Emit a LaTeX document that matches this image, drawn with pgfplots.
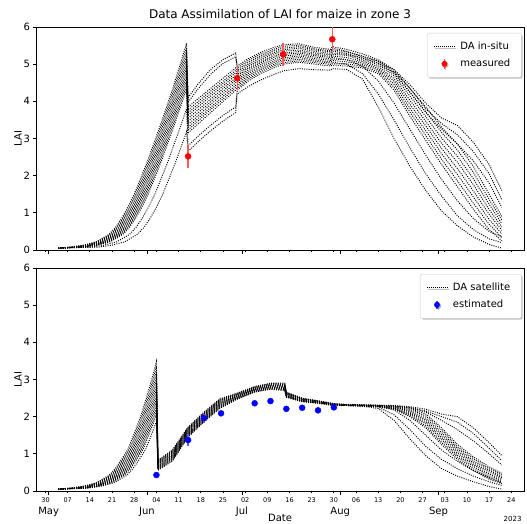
\documentclass[border=0pt]{standalone}
\usepackage{fontspec}
\setmainfont{DejaVu Sans}
\usepackage{pgfplots}
\pgfplotsset{compat=1.18}
\usepackage{pgfplotstable}
\usetikzlibrary{shadows}

% ensemble members after the first update (day of year, one column per member)
\pgfplotstableread{
day   i0   i1   i2   i3   i4   i5   i6   i7   i8   i9   i10  i11  i12  i13
165   4.10 3.85 3.98 3.77 3.69 3.62 3.54 3.46 3.38 3.30 3.23 3.15 2.80 2.65
168   4.45 4.06 4.32 3.98 3.91 3.84 3.76 3.68 3.60 3.53 3.46 3.38 3.05 2.90
172   4.85 4.34 4.72 4.27 4.20 4.13 4.05 3.98 3.91 3.83 3.77 3.69 3.35 3.20
176   5.12 4.62 5.02 4.54 4.48 4.41 4.34 4.27 4.20 4.13 4.06 3.99 3.62 3.47
180   5.30 4.90 5.20 4.83 4.77 4.70 4.63 4.57 4.50 4.43 4.37 4.30 3.85 3.70
180.5 4.95 4.84 4.90 4.79 4.73 4.68 4.63 4.57 4.52 4.46 4.41 4.35 4.30 4.20
184   5.15 5.05 5.10 5.00 4.95 4.90 4.85 4.80 4.75 4.70 4.65 4.60 4.55 4.40
188   5.32 5.22 5.27 5.18 5.13 5.08 5.04 4.99 4.94 4.89 4.85 4.80 4.75 4.58
192   5.45 5.36 5.40 5.31 5.27 5.22 5.18 5.13 5.08 5.04 4.99 4.95 4.90 4.72
195   5.52 5.43 5.48 5.39 5.35 5.30 5.26 5.22 5.17 5.13 5.09 5.04 5.00 4.82
200   5.55 5.47 5.51 5.43 5.38 5.34 5.30 5.26 5.22 5.18 5.13 5.09 5.05 4.88
205   5.45 5.38 5.41 5.34 5.30 5.26 5.23 5.19 5.15 5.11 5.08 5.04 5.00 4.85
210   5.40 5.33 5.36 5.29 5.25 5.21 5.18 5.14 5.10 5.06 5.03 4.99 4.95 4.84
210.5 5.47 5.39 5.43 5.35 5.30 5.26 5.22 5.18 5.14 5.10 5.05 5.01 4.97 4.88
215   5.40 5.33 5.35 5.29 5.26 5.24 5.18 5.12 5.12 5.06 5.00 5.01 4.95 4.86
220   5.28 5.22 5.20 5.16 5.16 5.11 5.07 4.95 5.03 4.99 4.75 4.94 4.90 4.60
225   5.12 5.08 5.08 5.03 5.03 4.99 4.94 4.55 4.89 4.85 4.20 4.80 4.75 3.85
230   4.85 4.80 4.85 4.77 4.75 4.69 4.61 3.95 4.54 4.46 3.50 4.38 4.30 3.00
235   4.45 4.35 4.35 4.24 4.25 4.14 4.03 3.25 3.92 3.81 2.75 3.71 3.60 2.25
240   3.95 3.80 3.85 3.72 3.70 3.59 3.46 2.55 3.34 3.21 2.05 3.08 2.95 1.60
245   3.55 3.40 3.30 3.16 3.25 3.01 2.87 1.90 2.73 2.59 1.45 2.44 2.30 1.05
250   3.35 3.10 2.85 2.69 2.85 2.52 2.36 1.32 2.19 2.03 0.92 1.86 1.70 0.65
255   2.90 2.65 2.25 2.09 2.40 1.92 1.76 0.85 1.59 1.43 0.55 1.26 1.10 0.35
260   2.30 2.05 1.50 1.36 1.80 1.23 1.09 0.50 0.96 0.82 0.30 0.69 0.55 0.15
264   1.60 1.35 0.90 0.81 1.15 0.71 0.62 0.35 0.53 0.44 0.20 0.34 0.25 0.05
}\insitutab

\pgfplotstableread{
day   i0   i1   i2   i3   i4   i5   i6   i7   i8   i9   i10  i11  i12  i13
155.5 0.83 0.81 0.79 0.77 0.75 0.73 0.71 0.68 0.66 0.64 0.62 0.60 0.58 0.56
160   1.10 1.08 1.05 1.03 1.01 0.98 0.96 0.94 0.92 0.89 0.87 0.85 0.82 0.80
165   1.72 1.70 1.68 1.66 1.64 1.62 1.60 1.57 1.55 1.53 1.51 1.49 1.47 1.45
170   2.12 2.10 2.08 2.06 2.04 2.02 2.00 1.98 1.96 1.94 1.92 1.90 1.88 1.86
175   2.48 2.46 2.44 2.42 2.40 2.38 2.36 2.34 2.32 2.30 2.28 2.26 2.24 2.22
180   2.62 2.61 2.59 2.58 2.57 2.55 2.54 2.53 2.52 2.50 2.49 2.48 2.46 2.45
186   2.81 2.80 2.79 2.78 2.76 2.75 2.74 2.73 2.72 2.71 2.69 2.68 2.67 2.66
191   2.90 2.89 2.88 2.86 2.85 2.84 2.83 2.81 2.80 2.79 2.78 2.76 2.75 2.74
195.5 2.90 2.88 2.87 2.85 2.84 2.82 2.81 2.79 2.78 2.76 2.75 2.73 2.72 2.70
196   2.66 2.65 2.64 2.63 2.62 2.61 2.60 2.58 2.57 2.56 2.55 2.54 2.53 2.52
201   2.50 2.49 2.48 2.48 2.47 2.46 2.45 2.45 2.44 2.43 2.42 2.42 2.41 2.40
206   2.43 2.42 2.42 2.41 2.41 2.40 2.40 2.39 2.39 2.38 2.38 2.37 2.37 2.36
211   2.35 2.35 2.34 2.34 2.33 2.33 2.33 2.32 2.32 2.32 2.31 2.31 2.30 2.30
215   2.33 2.32 2.32 2.32 2.32 2.31 2.31 2.31 2.31 2.31 2.30 2.30 2.30 2.30
220   2.32 2.31 2.31 2.31 2.31 2.30 2.30 2.30 2.30 2.30 2.29 2.29 2.29 2.28
225   2.31 2.30 2.30 2.30 2.30 2.29 2.29 2.28 2.28 2.28 2.26 2.27 2.27 2.22
230   2.30 2.28 2.29 2.27 2.28 2.26 2.25 2.18 2.23 2.22 2.05 2.21 2.20 1.90
235   2.27 2.22 2.25 2.19 2.24 2.16 2.13 1.90 2.09 2.06 1.65 2.03 2.00 1.40
240   2.20 2.07 2.15 2.02 2.12 1.96 1.91 1.50 1.86 1.81 1.20 1.75 1.70 0.95
245   2.07 1.70 2.00 1.64 1.90 1.57 1.51 1.10 1.44 1.38 0.85 1.31 1.25 0.60
250   2.00 1.25 1.85 1.19 1.65 1.14 1.08 0.80 1.02 0.96 0.60 0.91 0.85 0.40
255   1.70 0.92 1.55 0.87 1.35 0.81 0.76 0.55 0.71 0.66 0.40 0.60 0.55 0.25
260   1.30 0.65 1.15 0.60 1.00 0.56 0.51 0.35 0.46 0.41 0.25 0.37 0.32 0.12
264   0.95 0.48 0.82 0.44 0.70 0.40 0.36 0.22 0.32 0.28 0.15 0.24 0.20 0.05
}\sattab

\pgfplotsset{
  lai/.style={
    scale only axis, width=488pt, height=223pt,
    xmin=117, xmax=271, ymin=0, ymax=6,
    ytick={0,1,2,3,4,5,6},
    tick pos=left, tick align=outside,
    xtick={120,127,...,267},
    major tick length=2.5pt,
    axis line style={line width=0.8pt},
    every tick/.style={black, line width=0.8pt},
    extra x ticks={121,152,182,213,244},
    extra x tick style={major tick length=4pt,
      xticklabel style={font=\fontsize{10}{10}\selectfont, yshift=-7.5pt}},
    /pgf/number format/assume math mode=true,
    yticklabel style={font=\fontsize{10}{12}\selectfont},
    xticklabel style={font=\fontsize{6.5}{7}\selectfont, yshift=-1pt},
    ylabel={LAI}, ylabel shift=-5pt,
    ylabel style={font=\fontsize{10}{12}\selectfont},
    legend cell align=left,
    legend style={at={(1,1)}, anchor=north east, xshift=-2.5pt, yshift=-6pt,
      font=\fontsize{10}{12}\selectfont, draw=black!20, rounded corners=2pt,
      fill=white, inner xsep=6pt, inner ysep=7pt, row sep=4pt,
      nodes={inner xsep=5pt},
      drop shadow={shadow xshift=1.2pt, shadow yshift=-1.2pt, fill=black, opacity=0.25}},
  },
  ens/.style={black, line width=0.95pt, dash pattern=on 0.95pt off 1.3pt, forget plot},
  dotleg/.style={legend image code/.code={\draw[black, line width=0.8pt, dash pattern=on 0.8pt off 1.2pt] (0pt,0pt) -- (21pt,0pt);}},
  redleg/.style={legend image code/.code={\draw[red!65, line width=1.4pt] (10.5pt,-5pt) -- (10.5pt,5pt); \fill[red] (10.5pt,0pt) circle (2.7pt);}},
  blueleg/.style={legend image code/.code={\draw[blue!65, line width=1.4pt] (10.5pt,-4pt) -- (10.5pt,4pt); \fill[blue] (10.5pt,0pt) circle (2.7pt);}},
}

\begin{document}
\begin{tikzpicture}
\path[use as bounding box] (0,0) rectangle (527pt,524pt);

% ---------- top: in-situ ----------
\begin{axis}[lai, at={(36pt,274pt)}, anchor=south west,
    xticklabels={}, extra x tick labels={}]
  \addplot[ens] coordinates {(124,0.05)(128,0.08)(132,0.13)(136,0.22)(140,0.42)(142,0.60)(144,0.85)(146,1.15)(148,1.50)(152,2.35)(156,3.30)(160,4.30)(162,4.85)(164.5,5.56)(165,4.10)};
  \addplot[ens] coordinates {(124,0.05)(128.4,0.08)(132.4,0.13)(136.4,0.22)(140.4,0.42)(142.4,0.60)(144.4,0.85)(146.4,1.15)(148.4,1.50)(152.4,2.35)(156.4,3.30)(160.4,4.30)(162.4,4.85)(164.5,5.45)(165,3.85)};
  \addplot[ens] coordinates {(124,0.05)(128.8,0.08)(132.8,0.13)(136.8,0.22)(140.8,0.42)(142.8,0.60)(144.8,0.85)(146.8,1.15)(148.8,1.50)(152.8,2.35)(156.8,3.30)(160.8,4.30)(162.8,4.85)(164.5,5.33)(165,3.98)};
  \addplot[ens] coordinates {(124,0.05)(129.2,0.08)(133.2,0.13)(137.2,0.22)(141.2,0.42)(143.2,0.60)(145.2,0.85)(147.2,1.15)(149.2,1.50)(153.2,2.35)(157.2,3.30)(161.2,4.30)(163.2,4.85)(164.5,5.22)(165,3.77)};
  \addplot[ens] coordinates {(124,0.05)(129.6,0.08)(133.6,0.13)(137.6,0.22)(141.6,0.42)(143.6,0.60)(145.6,0.85)(147.6,1.15)(149.6,1.50)(153.6,2.35)(157.6,3.30)(161.6,4.30)(163.6,4.85)(164.5,5.11)(165,3.69)};
  \addplot[ens] coordinates {(124,0.05)(130,0.08)(134,0.13)(138,0.22)(142,0.42)(144,0.60)(146,0.85)(148,1.15)(150,1.50)(154,2.35)(158,3.30)(162,4.30)(164,4.85)(164.5,4.99)(165,3.62)};
  \addplot[ens] coordinates {(124,0.05)(130.4,0.08)(134.4,0.13)(138.4,0.22)(142.4,0.42)(144.4,0.60)(146.4,0.85)(148.4,1.15)(150.4,1.50)(154.4,2.35)(158.4,3.30)(162.4,4.30)(164.4,4.85)(164.5,4.88)(165,3.54)};
  \addplot[ens] coordinates {(124,0.05)(130.8,0.08)(134.8,0.13)(138.8,0.22)(142.8,0.42)(144.8,0.60)(146.8,0.85)(148.8,1.15)(150.8,1.50)(154.8,2.35)(158.8,3.30)(162.8,4.30)(164.5,4.77)(165,3.46)};
  \addplot[ens] coordinates {(124,0.05)(131.2,0.08)(135.2,0.13)(139.2,0.22)(143.2,0.42)(145.2,0.60)(147.2,0.85)(149.2,1.15)(151.2,1.50)(155.2,2.35)(159.2,3.30)(163.2,4.30)(164.5,4.66)(165,3.38)};
  \addplot[ens] coordinates {(124,0.05)(131.6,0.08)(135.6,0.13)(139.6,0.22)(143.6,0.42)(145.6,0.60)(147.6,0.85)(149.6,1.15)(151.6,1.50)(155.6,2.35)(159.6,3.30)(163.6,4.30)(164.5,4.55)(165,3.30)};
  \addplot[ens] coordinates {(124,0.05)(132,0.08)(136,0.13)(140,0.22)(144,0.42)(146,0.60)(148,0.85)(150,1.15)(152,1.50)(156,2.35)(160,3.30)(164,4.30)(164.5,4.44)(165,3.23)};
  \addplot[ens] coordinates {(124,0.05)(132.4,0.08)(136.4,0.13)(140.4,0.22)(144.4,0.42)(146.4,0.60)(148.4,0.85)(150.4,1.15)(152.4,1.50)(156.4,2.35)(160.4,3.30)(164.4,4.30)(164.5,4.33)(165,3.15)};
  \addplot[ens] coordinates {(124,0.05)(134.5,0.08)(138.5,0.13)(142.5,0.22)(146.5,0.42)(148.5,0.60)(150.5,0.85)(152.5,1.15)(154.5,1.50)(158.5,2.35)(162.5,3.30)(164.5,3.80)(165,2.80)};
  \addplot[ens] coordinates {(124,0.05)(137,0.08)(141,0.13)(145,0.22)(149,0.42)(151,0.60)(153,0.85)(155,1.15)(157,1.50)(161,2.35)(164.5,3.18)(165,2.65)};
  \pgfplotsinvokeforeach{0,...,13}{
    \addplot[ens] table[x=day, y=i#1] {\insitutab};
  }
  \addlegendimage{dotleg}
  \addlegendentry{DA in-situ}
  \addplot[redleg, only marks, mark=*, mark size=3pt, color=red,
    error bars/.cd, y dir=both, y explicit, error mark=none,
    error bar style={line width=1.4pt, red!65}]
    coordinates {(165,2.52) +- (0,0.31) (180.5,4.62) +- (0,0.32) (195,5.26) +- (0,0.31) (210.5,5.67) +- (0,0.32)};
  \addlegendentry{measured}
\end{axis}

% ---------- bottom: satellite ----------
\begin{axis}[lai, at={(36pt,33pt)}, anchor=south west,
    xticklabels={30,07,14,21,28,04,11,18,25,02,09,16,23,30,06,13,20,27,03,10,17,24},
    extra x tick labels={May,Jun,Jul,Aug,Sep}]
  \addplot[ens] coordinates {(124,0.05)(128,0.08)(132,0.13)(136,0.22)(140,0.42)(142,0.60)(144,0.85)(146,1.12)(148,1.55)(150,2.00)(152,2.55)(154,3.15)(155,3.48)(155.5,0.83)};
  \addplot[ens] coordinates {(124,0.05)(128.4,0.08)(132.4,0.13)(136.4,0.22)(140.4,0.42)(142.4,0.60)(144.4,0.85)(146.4,1.12)(148.4,1.55)(150.4,2.00)(152.4,2.55)(154.4,3.15)(155,3.35)(155.5,0.81)};
  \addplot[ens] coordinates {(124,0.05)(128.8,0.08)(132.8,0.13)(136.8,0.22)(140.8,0.42)(142.8,0.60)(144.8,0.85)(146.8,1.12)(148.8,1.55)(150.8,2.00)(152.8,2.55)(154.8,3.15)(155,3.22)(155.5,0.79)};
  \addplot[ens] coordinates {(124,0.05)(129.2,0.08)(133.2,0.13)(137.2,0.22)(141.2,0.42)(143.2,0.60)(145.2,0.85)(147.2,1.12)(149.2,1.55)(151.2,2.00)(153.2,2.55)(155,3.09)(155.5,0.77)};
  \addplot[ens] coordinates {(124,0.05)(129.6,0.08)(133.6,0.13)(137.6,0.22)(141.6,0.42)(143.6,0.60)(145.6,0.85)(147.6,1.12)(149.6,1.55)(151.6,2.00)(153.6,2.55)(155,2.97)(155.5,0.75)};
  \addplot[ens] coordinates {(124,0.05)(130,0.08)(134,0.13)(138,0.22)(142,0.42)(144,0.60)(146,0.85)(148,1.12)(150,1.55)(152,2.00)(154,2.55)(155,2.85)(155.5,0.73)};
  \addplot[ens] coordinates {(124,0.05)(130.4,0.08)(134.4,0.13)(138.4,0.22)(142.4,0.42)(144.4,0.60)(146.4,0.85)(148.4,1.12)(150.4,1.55)(152.4,2.00)(154.4,2.55)(155,2.73)(155.5,0.71)};
  \addplot[ens] coordinates {(124,0.05)(130.8,0.08)(134.8,0.13)(138.8,0.22)(142.8,0.42)(144.8,0.60)(146.8,0.85)(148.8,1.12)(150.8,1.55)(152.8,2.00)(154.8,2.55)(155,2.61)(155.5,0.68)};
  \addplot[ens] coordinates {(124,0.05)(131.2,0.08)(135.2,0.13)(139.2,0.22)(143.2,0.42)(145.2,0.60)(147.2,0.85)(149.2,1.12)(151.2,1.55)(153.2,2.00)(155,2.50)(155.5,0.66)};
  \addplot[ens] coordinates {(124,0.05)(131.6,0.08)(135.6,0.13)(139.6,0.22)(143.6,0.42)(145.6,0.60)(147.6,0.85)(149.6,1.12)(151.6,1.55)(153.6,2.00)(155,2.39)(155.5,0.64)};
  \addplot[ens] coordinates {(124,0.05)(132,0.08)(136,0.13)(140,0.22)(144,0.42)(146,0.60)(148,0.85)(150,1.12)(152,1.55)(154,2.00)(155,2.28)(155.5,0.62)};
  \addplot[ens] coordinates {(124,0.05)(132.4,0.08)(136.4,0.13)(140.4,0.22)(144.4,0.42)(146.4,0.60)(148.4,0.85)(150.4,1.12)(152.4,1.55)(154.4,2.00)(155,2.17)(155.5,0.60)};
  \addplot[ens] coordinates {(124,0.05)(132.8,0.08)(136.8,0.13)(140.8,0.22)(144.8,0.42)(146.8,0.60)(148.8,0.85)(150.8,1.12)(152.8,1.55)(154.8,2.00)(155,2.06)(155.5,0.58)};
  \addplot[ens] coordinates {(124,0.05)(133.6,0.08)(137.6,0.13)(141.6,0.22)(145.6,0.42)(147.6,0.60)(149.6,0.85)(151.6,1.12)(153.6,1.55)(155,1.87)(155.5,0.56)};
  \pgfplotsinvokeforeach{0,...,13}{
    \addplot[ens] table[x=day, y=i#1] {\sattab};
  }
  \addlegendimage{dotleg}
  \addlegendentry{DA satellite}
  \addplot[blueleg, only marks, mark=*, mark size=3pt, color=blue,
    error bars/.cd, y dir=both, y explicit, error mark=none,
    error bar style={line width=1.4pt, blue!65}]
    coordinates {(155,0.43) +- (0,0.05) (165,1.37) +- (0,0.16) (170,1.96) +- (0,0.12) (175.4,2.09) +- (0,0.06) (186,2.36) +- (0,0.05) (191,2.42) +- (0,0.05) (196,2.21) +- (0,0.05) (201,2.24) +- (0,0.05) (206,2.17) +- (0,0.05) (211,2.25) +- (0,0.05)};
  \addlegendentry{estimated}
\end{axis}

\node[font=\fontsize{12}{14}\selectfont, anchor=base] at (280pt,505.5pt) {Data Assimilation of LAI for maize in zone 3};
\node[font=\fontsize{10}{12}\selectfont, anchor=base] at (280pt,2.5pt) {Date};
\node[font=\fontsize{7}{8}\selectfont, anchor=base east, inner sep=0pt] at (521.7pt,2pt) {2023};
\end{tikzpicture}
\end{document}
